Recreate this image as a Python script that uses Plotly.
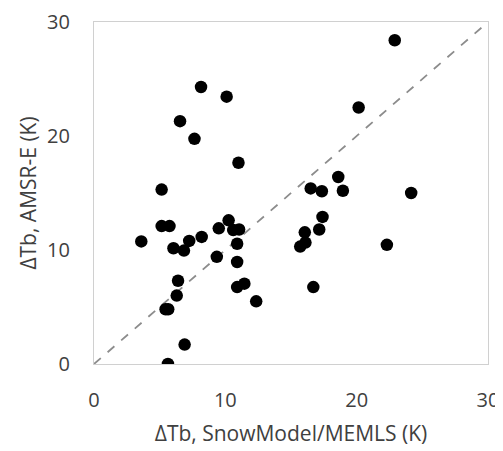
import plotly.graph_objects as go

# Data
x_model = [5.63, 6.9, 5.45, 5.65, 6.3, 6.4, 3.6, 5.15, 5.75, 6.05, 6.85, 7.25, 8.2, 9.5,
           10.25, 10.6, 11.05, 10.9, 9.35, 10.9, 10.9, 11.45, 12.35, 5.15, 8.15, 10.1,
           6.55, 7.65, 11.0, 22.9, 20.15, 18.6, 16.5, 17.35, 18.95, 24.15, 17.4, 17.15,
           16.05, 16.1, 15.7, 22.3, 16.7]
y_amsr = [0.0, 1.7, 4.8, 4.8, 6.0, 7.3, 10.75, 12.1, 12.1, 10.15, 9.95, 10.8, 11.15, 11.9,
          12.6, 11.75, 11.8, 10.55, 9.4, 8.95, 6.75, 7.05, 5.5, 15.3, 24.3, 23.45,
          21.3, 19.75, 17.65, 28.4, 22.5, 16.4, 15.4, 15.15, 15.2, 15.0, 12.9, 11.8,
          11.55, 10.65, 10.3, 10.45, 6.75]
line_x = [0, 30]
line_y = [0, 30]
tick_vals = [0, 10, 20, 30]
tick_text = ["0", "10", "20", "30"]

fig = go.Figure()
fig.add_trace(go.Scatter(x=line_x, y=line_y, mode="lines",
                         line=dict(color="#8c8c8c", width=1.8, dash="dash"),
                         hoverinfo="skip", showlegend=False))
fig.add_trace(go.Scatter(x=x_model, y=y_amsr, mode="markers",
                         marker=dict(color="black", size=12.5, line=dict(width=0)),
                         showlegend=False))

font_family = "'Open Sans', sans-serif"
text_color = "#404040"
axis_common = dict(range=[0, 30], tickvals=tick_vals, ticktext=tick_text,
                   showgrid=False, zeroline=False, showline=True, mirror=True,
                   linecolor="#d0d0d0", linewidth=1.3, ticks="",
                   automargin=False, ticklabeloverflow="allow",
                   tickfont=dict(family=font_family, size=20, color=text_color))

# The page body has an 8px default margin; margins are offset to compensate.
fig.update_layout(
    width=503, height=451,
    margin=dict(l=85.5, r=22.5, t=14, b=95),
    paper_bgcolor="white", plot_bgcolor="white",
    font=dict(family=font_family, color=text_color),
    xaxis=dict(**axis_common, ticklabelstandoff=18,
               title=dict(text="ΔTb, SnowModel/MEMLS (K)",
                          font=dict(family=font_family, size=21, color=text_color),
                          standoff=14)),
    yaxis=dict(**axis_common, ticklabelstandoff=19,
               title=dict(text="ΔTb, AMSR-E (K)",
                          font=dict(family=font_family, size=21, color=text_color),
                          standoff=4)),
)

fig.write_html("out.html")
